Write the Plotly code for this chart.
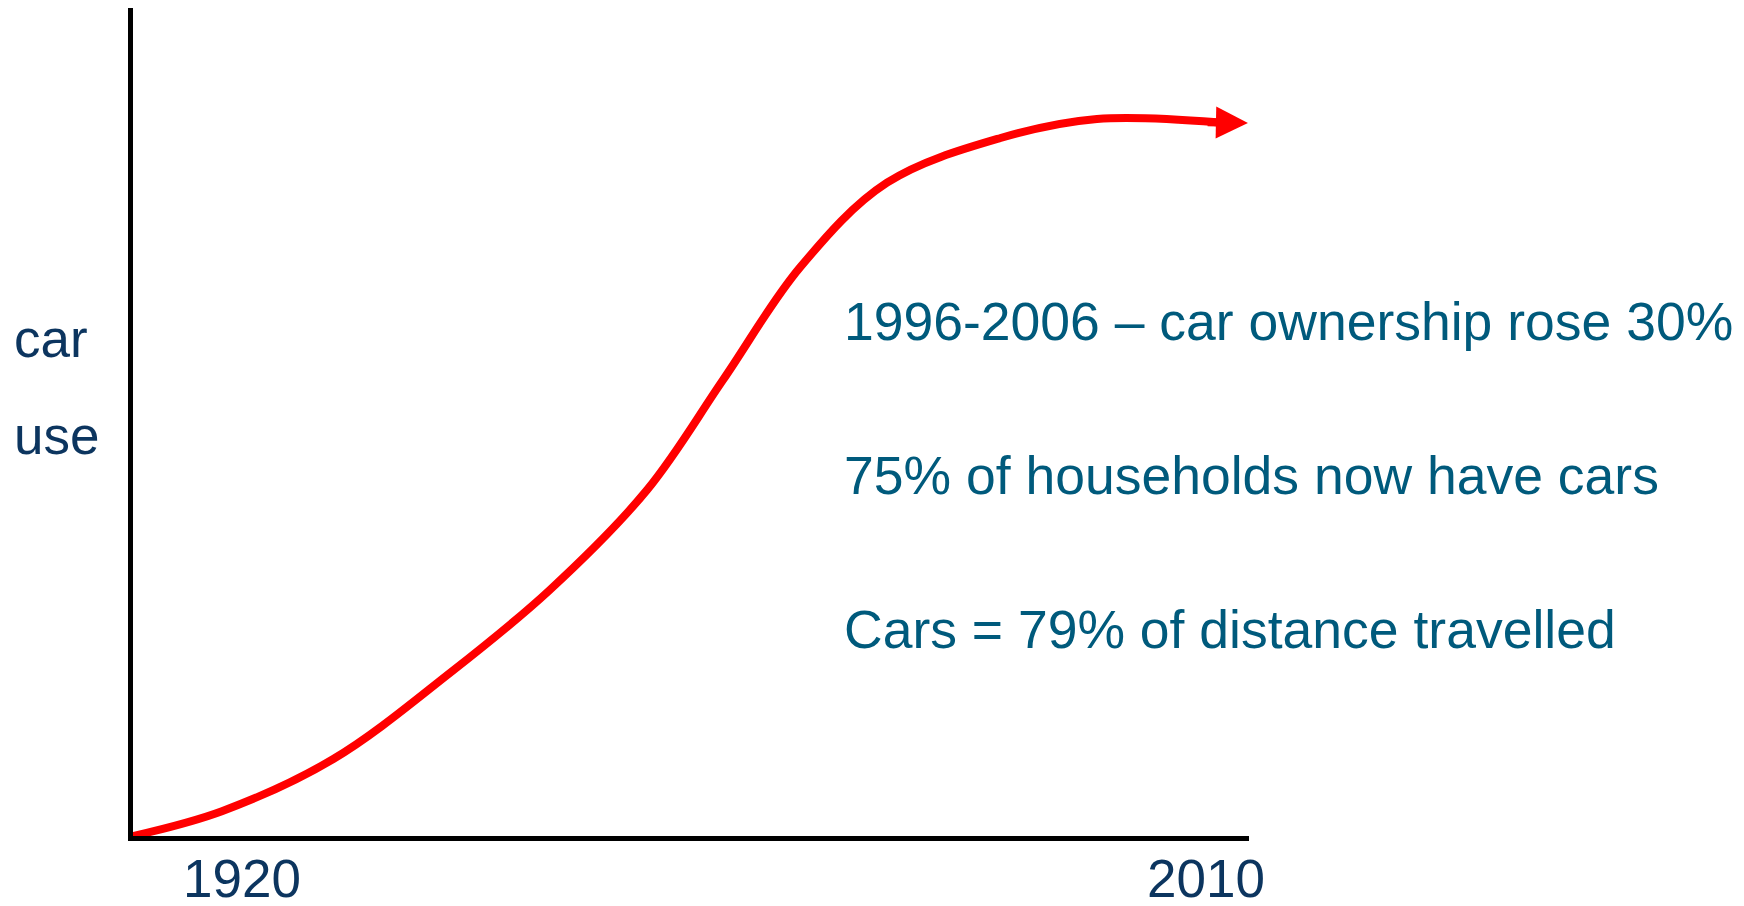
import plotly.graph_objects as go

# Curve data (year, car-use index)
years = [1909.8, 1918.1, 1928.5, 1939.4, 1948.7, 1957.8, 1964.9,
         1972.1, 1980.2, 1990.8, 1999.8, 2011.0]
car_use = [0.0, 3.0, 9.3, 19.7, 29.7, 41.8, 55.1,
           68.7, 78.9, 84.3, 86.6, 86.2]
arrow_tip = (2013.9, 86.1)

tick_years = [1920, 2010]
tick_labels = ["1920", "2010"]
y_label_lines = ["car", "use"]
notes = ["1996-2006 \u2013 car ownership rose 30%",
         "75% of households now have cars",
         "Cars = 79% of distance travelled"]

RED = "#ff0000"
NAVY = "#0c355f"
TEAL = "#005a7c"
FONT = "Liberation Sans, Arial, sans-serif"

fig = go.Figure()
fig.add_trace(go.Scatter(x=years, y=car_use, mode="lines",
                         line=dict(color=RED, width=8, shape="spline", smoothing=1.0),
                         hoverinfo="skip", showlegend=False))

annotations = []
# arrow head
annotations.append(dict(x=arrow_tip[0], y=arrow_tip[1], xref="x", yref="y",
                        ax=years[-1] - 1.0, ay=car_use[-1], axref="x", ayref="y",
                        text="", showarrow=True, arrowhead=2, arrowsize=0.8,
                        arrowwidth=8, arrowcolor=RED, standoff=0, startstandoff=0))

# x-axis year labels
for yr, lbl in zip(tick_years, tick_labels):
    annotations.append(dict(x=yr, y=-0.051, xref="x", yref="paper",
                            text=lbl, showarrow=False, xanchor="center", yanchor="middle",
                            font=dict(family=FONT, size=53, color=NAVY)))

for lbl, py in zip(y_label_lines, [0.601, 0.484]):
    annotations.append(dict(x=-0.1085, y=py, xref="paper", yref="paper",
                            text=lbl, showarrow=False, xanchor="left", yanchor="middle",
                            font=dict(family=FONT, size=53, color=NAVY)))

for note, py in zip(notes, [0.621, 0.435, 0.250]):
    annotations.append(dict(x=0.6357, y=py, xref="paper", yref="paper",
                            text=note, showarrow=False, xanchor="left", yanchor="middle",
                            font=dict(family=FONT, size=53.5, color=TEAL)))

fig.update_layout(
    width=1744, height=906,
    margin=dict(l=125, r=503, t=0, b=78, autoexpand=False),
    paper_bgcolor="white", plot_bgcolor="white",
    annotations=annotations,
    xaxis=dict(range=[1909.8, 2014.0], showgrid=False, zeroline=False,
               showline=True, linecolor="black", linewidth=5, automargin=False,
               showticklabels=False, ticks="", layer="below traces", fixedrange=True),
    yaxis=dict(range=[0, 100], showgrid=False, zeroline=False,
               showline=True, linecolor="black", linewidth=5, automargin=False,
               showticklabels=False, ticks="", layer="below traces", fixedrange=True),
)

fig.write_html("out.html")
